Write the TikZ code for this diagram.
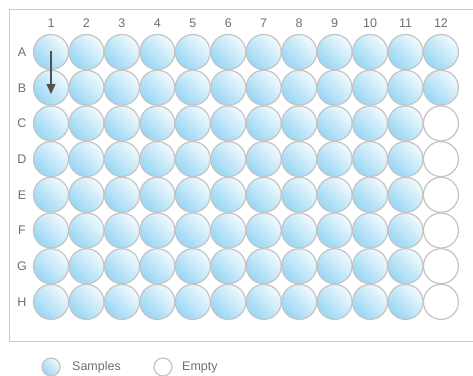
\documentclass[tikz,border=0pt]{standalone}
\usepackage{fontspec}
\setmainfont{Liberation Sans}
\usetikzlibrary{arrows.meta}
\definecolor{wellline}{HTML}{C4C4C4}
\definecolor{framecol}{HTML}{C8C8C8}
\definecolor{labcol}{HTML}{707070}
\definecolor{bluedark}{HTML}{98D6F4}
\definecolor{bluelight}{HTML}{F2FAFE}
\definecolor{arrowcol}{HTML}{505050}
\tikzset{
  sample/.style={circle, minimum size=35pt, inner sep=0pt, draw=wellline, line width=1.2pt,
    shading=axis, top color=bluelight, bottom color=bluedark, shading angle=-45},
  empty/.style={circle, minimum size=35pt, inner sep=0pt, draw=wellline, line width=1.2pt, fill=white},
  lab/.style={text=labcol, font=\fontsize{12.5}{14}\selectfont, inner sep=0pt},
}
\begin{document}
\begin{tikzpicture}[x=1pt,y=-1pt]
\useasboundingbox (0,0) rectangle (473,375);
\fill[white] (0,0) rectangle (473,375);
\draw[framecol, line width=1pt] (9,9) rectangle (480,341);
\foreach \c in {1,...,12} {
  \node[lab] (col\c) at ({51+(\c-1)*35.45},23) {\c};
}
\foreach \r/\L [count=\i from 0] in {A/A,B/B,C/C,D/D,E/E,F/F,G/G,H/H} {
  \node[lab] (row\r) at (22,{52+\i*35.7}) {\L};
  \foreach \c in {1,...,12} {
    \pgfmathtruncatemacro{\isempty}{(\c==12) && (\i>1)}
    \ifnum\isempty=1
      \node[empty] (w\r\c) at ({51+(\c-1)*35.45},{52+\i*35.7}) {};
    \else
      \node[sample] (w\r\c) at ({51+(\c-1)*35.45},{52+\i*35.7}) {};
    \fi
  }
}
\coordinate (arrs) at (51,51);
\coordinate (arre) at (51,94);
\draw[arrowcol, line width=1.2pt, -{Triangle[length=10pt,width=9pt]}] (arrs) -- (arre);
\node[sample, minimum size=18pt] (legs) at (51,367) {};
\node[lab, anchor=west] (legst) at (72,367) {Samples};
\node[empty, minimum size=18pt] (lege) at (163,367) {};
\node[lab, anchor=west] (leget) at (182,367) {Empty};
\end{tikzpicture}
\end{document}
